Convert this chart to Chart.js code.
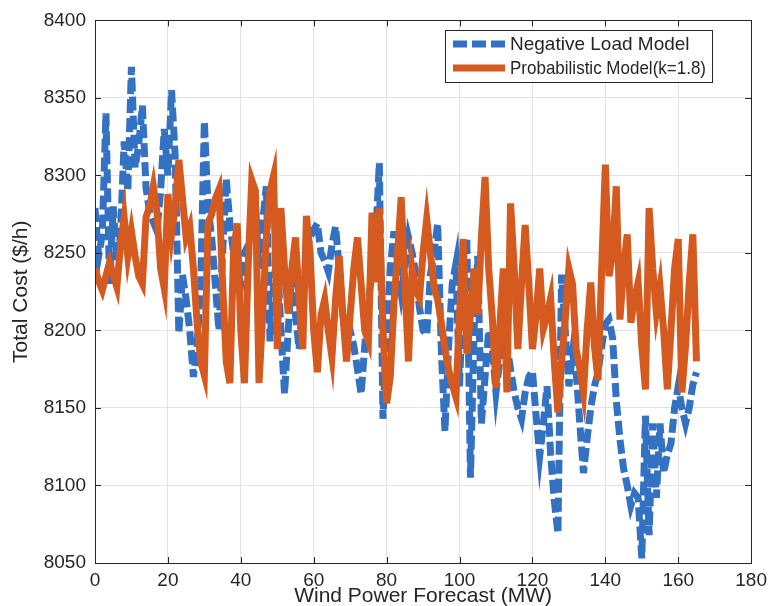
<!DOCTYPE html>
<html>
<head>
<meta charset="utf-8">
<script src="https://cdn.jsdelivr.net/npm/chart.js@4"></script>
<style>
  html, body { margin: 0; padding: 0; background: #fff; }
  #wrap { width: 773px; height: 606px; }
</style>
</head>
<body>
<div id="wrap"><canvas id="costChart" width="773" height="606"></canvas></div>
<script>
// Total cost vs wind power forecast, two models

const windMW = [
  0, 1, 2, 3, 4, 5, 6, 7, 8, 9, 10, 11, 12, 13, 14, 15, 16, 17, 18, 19,
  20, 21, 22, 23, 24, 25, 26, 27, 28, 29, 30, 31, 32, 33, 34, 35, 36, 37, 38, 39,
  40, 41, 42, 43, 44, 45, 46, 47, 48, 49, 50, 51, 52, 53, 54, 55, 56, 57, 58, 59,
  60, 61, 62, 63, 64, 65, 66, 67, 68, 69, 70, 71, 72, 73, 74, 75, 76, 77, 78, 79,
  80, 81, 82, 83, 84, 85, 86, 87, 88, 89, 90, 91, 92, 93, 94, 95, 96, 97, 98, 99,
  100, 101, 102, 103, 104, 105, 106, 107, 108, 109, 110, 111, 112, 113, 114, 115, 116, 117, 118, 119,
  120, 121, 122, 123, 124, 125, 126, 127, 128, 129, 130, 131, 132, 133, 134, 135, 136, 137, 138, 139,
  140, 141, 142, 143, 144, 145, 146, 147, 148, 149, 150, 151, 152, 153, 154, 155, 156, 157, 158, 159,
  160, 161, 162, 163, 164, 165
];

const negativeLoad = [
  8279, 8248, 8262, 8340, 8230, 8280, 8245, 8262, 8322, 8290, 8370, 8305, 8320, 8345, 8292, 8276, 8270, 8264, 8290, 8330,
  8300, 8355, 8312, 8198, 8236, 8220, 8200, 8170, 8190, 8230, 8335, 8280, 8260, 8230, 8200, 8250, 8298, 8269, 8250, 8240,
  8230, 8250, 8255, 8270, 8281, 8240, 8270, 8293, 8193, 8230, 8250, 8200, 8159, 8200, 8236, 8210, 8188, 8220, 8250, 8260,
  8265, 8269, 8250, 8245, 8238, 8255, 8267, 8240, 8210, 8193, 8200, 8190, 8175, 8159, 8190, 8220, 8236, 8260, 8308, 8143,
  8200, 8240, 8264, 8240, 8224, 8240, 8260, 8250, 8236, 8215, 8200, 8197, 8236, 8250, 8269, 8188, 8135, 8190, 8230, 8243,
  8164, 8230, 8260, 8105, 8200, 8248, 8140, 8170, 8200, 8188, 8160, 8180, 8200, 8190, 8175, 8160, 8150, 8143, 8160, 8170,
  8174, 8145, 8119, 8140, 8164, 8120, 8090, 8069, 8236, 8200, 8164, 8185, 8173, 8140, 8108, 8130, 8150, 8164, 8173, 8190,
  8204, 8207, 8195, 8155, 8130, 8111, 8100, 8087, 8095, 8092, 8053, 8145, 8068, 8140, 8092, 8140, 8108, 8120, 8127, 8150,
  8164, 8150, 8140, 8150, 8165, 8173
];

const probabilistic = [
  8240, 8232, 8226, 8235, 8244, 8236, 8228, 8255, 8273, 8248, 8264, 8248, 8235, 8230, 8273, 8280, 8293, 8276, 8240, 8227,
  8288, 8262, 8280, 8310, 8285, 8260, 8267, 8240, 8205, 8180, 8171, 8269, 8275, 8285, 8291, 8230, 8180, 8166, 8250, 8269,
  8200, 8166, 8240, 8297, 8290, 8166, 8210, 8260, 8290, 8300, 8188, 8279, 8240, 8211, 8240, 8260, 8220, 8188, 8274, 8250,
  8200, 8173, 8210, 8220, 8200, 8183, 8220, 8248, 8210, 8180, 8210, 8240, 8260, 8230, 8200, 8193, 8276, 8231, 8279, 8200,
  8153, 8170, 8217, 8250, 8286, 8230, 8180, 8240, 8226, 8221, 8250, 8272, 8250, 8228, 8220, 8205, 8188, 8175, 8165, 8157,
  8210, 8259, 8185, 8210, 8240, 8210, 8260, 8299, 8240, 8208, 8163, 8200, 8240, 8160, 8282, 8240, 8188, 8230, 8268, 8230,
  8188, 8210, 8240, 8201, 8210, 8221, 8180, 8147, 8180, 8207, 8240, 8230, 8188, 8175, 8160, 8200, 8231, 8190, 8168, 8240,
  8307, 8235, 8250, 8293, 8207, 8240, 8262, 8205, 8220, 8231, 8190, 8162, 8279, 8240, 8212, 8228, 8200, 8162, 8200, 8240,
  8259, 8160, 8190, 8230, 8262, 8180
];

const seriesNames = ['Negative Load Model', 'Probabilistic Model(k=1.8)'];
const xTicks = [0, 20, 40, 60, 80, 100, 120, 140, 160, 180];
const yTicks = [8050, 8100, 8150, 8200, 8250, 8300, 8350, 8400];

const FONT = '"Liberation Sans", Arial, Helvetica, sans-serif';
const INK = '#262626';
const BLUE = '#3371c2';
const ORANGE = '#d45a1f';

function pairs(xs, ys) {
  return xs.map((x, i) => ({ x: x, y: ys[i] }));
}

// box round the axes, inward ticks on all four sides, and the boxed legend
const matlabFrame = {
  id: 'matlabFrame',
  afterDatasetsDraw(chart) {
    const ctx = chart.ctx;
    const a = chart.chartArea;
    const xs = chart.scales.x, ys = chart.scales.y;
    const tl = 6;
    ctx.save();
    ctx.strokeStyle = INK;
    ctx.lineWidth = 1;
    ctx.setLineDash([]);
    ctx.beginPath();
    xTicks.forEach(v => {
      const px = Math.round(xs.getPixelForValue(v)) + 0.5;
      ctx.moveTo(px, a.bottom); ctx.lineTo(px, a.bottom - tl);
      ctx.moveTo(px, a.top); ctx.lineTo(px, a.top + tl);
    });
    yTicks.forEach(v => {
      const py = Math.round(ys.getPixelForValue(v)) + 0.5;
      ctx.moveTo(a.left, py); ctx.lineTo(a.left + tl, py);
      ctx.moveTo(a.right, py); ctx.lineTo(a.right - tl, py);
    });
    ctx.stroke();
    ctx.strokeRect(Math.round(a.left) + 0.5, Math.round(a.top) + 0.5,
      Math.round(a.right - a.left), Math.round(a.bottom - a.top));

    // legend
    const bx = 445, by = 30, bw = 267, bh = 52;
    const textW = [183, 196];
    ctx.fillStyle = '#fff';
    ctx.fillRect(bx, by, bw, bh);
    ctx.strokeRect(bx + 0.5, by + 0.5, bw, bh);
    ctx.font = '19px ' + FONT;
    ctx.textBaseline = 'middle';
    chart.data.datasets.forEach((ds, i) => {
      const ly = by + 14 + i * 24;
      ctx.strokeStyle = ds.borderColor;
      ctx.lineWidth = ds.borderWidth;
      ctx.setLineDash(ds.borderDash || []);
      ctx.beginPath();
      ctx.moveTo(bx + 8, ly);
      ctx.lineTo(bx + 60, ly);
      ctx.stroke();
      ctx.setLineDash([]);
      ctx.fillStyle = INK;
      ctx.fillText(ds.label, bx + 65, ly + 1, textW[i]);
    });
    ctx.restore();
  }
};

const ctx = document.getElementById('costChart').getContext('2d');
new Chart(ctx, {
  type: 'line',
  data: {
    datasets: [
      {
        label: seriesNames[0],
        data: pairs(windMW, negativeLoad),
        borderColor: BLUE,
        borderWidth: 7,
        borderDash: [14, 5],
        pointRadius: 0,
        tension: 0,
        order: 2
      },
      {
        label: seriesNames[1],
        data: pairs(windMW, probabilistic),
        borderColor: ORANGE,
        borderWidth: 7,
        pointRadius: 0,
        tension: 0,
        order: 1
      }
    ]
  },
  options: {
    responsive: false,
    animation: false,
    layout: { padding: { top: 17, right: 21, left: 0, bottom: 0 } },
    plugins: {
      legend: { display: false },
      tooltip: { enabled: false }
    },
    scales: {
      x: {
        type: 'linear',
        min: 0, max: 180,
        afterBuildTicks: s => { s.ticks = xTicks.map(v => ({ value: v })); },
        afterFit: s => { s.height = 43; },
        grid: { color: '#e3e3e3', drawTicks: false },
        border: { display: false },
        ticks: { color: INK, padding: 6, font: { family: FONT, size: 19 }, maxRotation: 0,
                 callback: v => String(v) },
        title: {
          display: true, text: 'Wind Power Forecast (MW)', color: INK,
          font: { family: FONT, size: 21, lineHeight: 1 }, padding: { top: 0, bottom: -1 }
        }
      },
      y: {
        min: 8050, max: 8400,
        afterBuildTicks: s => { s.ticks = yTicks.map(v => ({ value: v })); },
        afterFit: s => { s.width = 95; },
        grid: { color: '#e3e3e3', drawTicks: false },
        border: { display: false },
        ticks: { color: INK, padding: 9, font: { family: FONT, size: 19 },
                 callback: v => String(v) },
        title: {
          display: true, text: 'Total Cost ($/h)', color: INK,
          font: { family: FONT, size: 21, lineHeight: 1 }, padding: { top: 11, bottom: 0 }
        }
      }
    }
  },
  plugins: [matlabFrame]
});
</script>
</body>
</html>
